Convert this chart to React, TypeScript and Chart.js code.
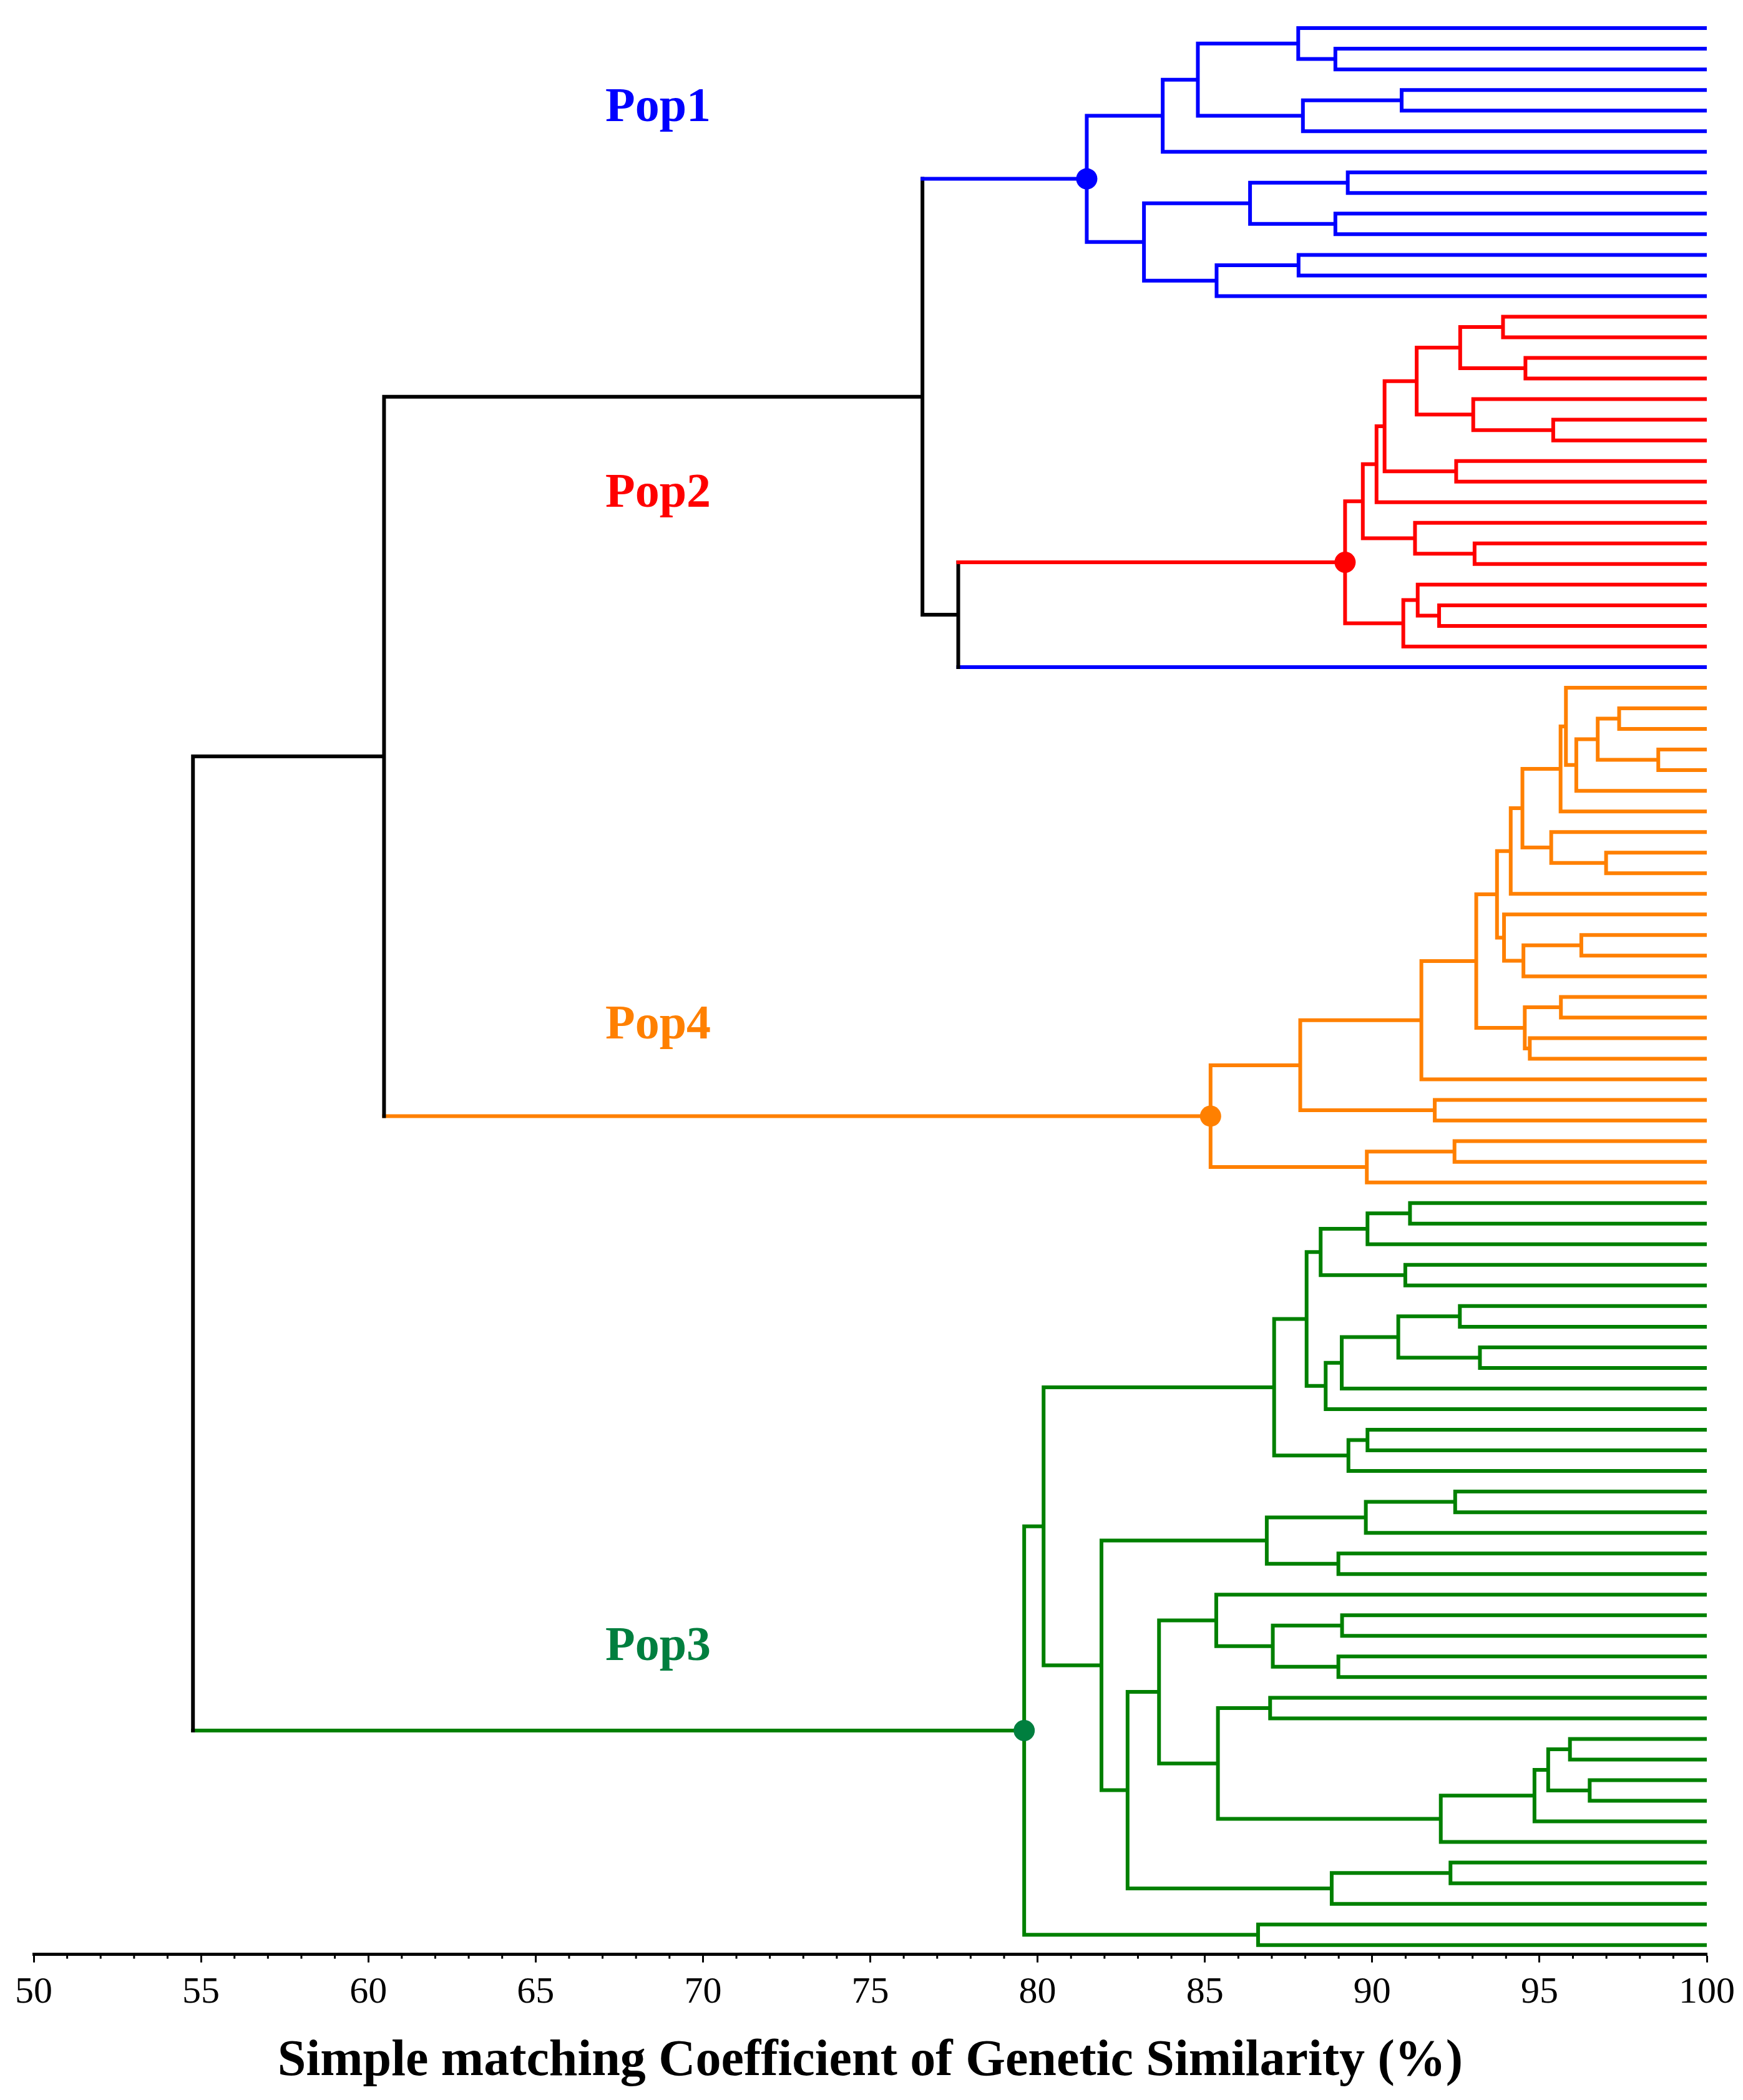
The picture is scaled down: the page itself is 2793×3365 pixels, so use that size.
import { useEffect, useRef } from 'react';
import { Chart, registerables } from 'chart.js';

Chart.register(...registerables);

// A leaf of the dendrogram
const L = 0;
type Tree = number | string | [number, Tree, Tree];

// Sub-trees: [similarity at which the two branches join, branch, branch]
const pop1Tree: Tree = [81.47,
  [83.74,
    [84.79,
      [87.79, L, [88.90, L, L]],
      [87.93, [90.88, L, L], L]],
    L],
  [83.18,
    [86.35, [89.27, L, L], [88.90, L, L]],
    [85.35, [87.80, L, L], L]]];

const pop2Tree: Tree = [89.19,
  [89.72,
    [90.13,
      [90.37,
        [91.33, [92.63, [93.91, L, L], [94.58, L, L]], [93.02, L, [95.41, L, L]]],
        [92.51, L, L]],
      L],
    [91.28, L, [93.06, L, L]]],
  [90.93, [91.36, L, [92.0, L, L]], L]];

const outlierTree: Tree = L;

const pop4Tree: Tree = [85.17,
  [87.85,
    [91.47,
      [93.11,
        [93.73,
          [94.14,
            [94.49,
              [95.63, [95.79, L, [96.10, [96.74, [97.38, L, L], [98.55, L, L]], L]], L],
              [95.35, L, [96.99, L, L]]],
            L],
          [93.94, L, [94.52, [96.25, L, L], L]]],
        [94.56, [95.64, L, L], [94.71, L, L]]],
      L],
    [91.87, L, L]],
  [89.84, [92.46, L, L], L]];

const pop3Tree: Tree = [79.6,
  [80.18,
    [87.07,
      [88.04,
        [88.46, [89.86, [91.13, L, L], L], [90.99, L, L]],
        [88.61, [89.09, [90.78, [92.62, L, L], [93.22, L, L]], L], L]],
      [89.29, [89.86, L, L], L]],
    [81.91,
      [86.85, [89.81, [92.48, L, L], L], [88.99, L, L]],
      [82.69,
        [83.63,
          [85.34, L, [87.03, [89.10, L, L], [88.99, L, L]]],
          [85.39, [86.95, L, L], [92.05, [94.85, [95.26, [95.91, L, L], [96.50, L, L]], L], L]]],
        [88.79, [92.34, L, L], L]]]],
  [86.59, L, L]];

// Upper part of the tree, joining the groups
const topTree: Tree = [54.76, [60.47, [76.56, 'Pop1', [77.63, 'Pop2', 'out']], 'Pop4'], 'Pop3'];

const groupKeys = ['Pop1', 'Pop2', 'out', 'Pop4', 'Pop3'];
const groupTrees: Tree[] = [pop1Tree, pop2Tree, outlierTree, pop4Tree, pop3Tree];
const groupLabels = ['Pop1', 'Pop2', '', 'Pop4', 'Pop3'];

const xTickValues = [50, 55, 60, 65, 70, 75, 80, 85, 90, 95, 100];
const xTitle = 'Simple matching Coefficient of Genetic Similarity (%)';

// styles
const lineColors: Record<string, string> = {
  Pop1: '#0000FF', Pop2: '#FF0000', out: '#0000FF', Pop4: '#FF8000', Pop3: '#008000', top: '#000000',
};
const markerColors: Record<string, string> = {
  Pop1: '#0000FF', Pop2: '#FF0000', Pop4: '#FF8000', Pop3: '#007F3F',
};
const labelColors: Record<string, string> = {
  Pop1: '#0000FF', Pop2: '#FF0000', Pop4: '#FF8000', Pop3: '#007F3F',
};
const labelRows: Record<string, number> = { Pop1: 3.9, Pop2: 22.6, Pop4: 48.4, Pop3: 78.55 };
const labelX = 68.66;

type Pt = { x: number; y: number | null };

function buildTree() {
  const segs: Record<string, Pt[]> = {};
  const markers: { x: number; y: number; key: string }[] = [];
  let next = 0;
  const add = (key: string, a: [number, number], b: [number, number]) => {
    if (!segs[key]) segs[key] = [];
    segs[key].push({ x: a[0], y: a[1] }, { x: b[0], y: b[1] }, { x: a[0], y: null });
  };
  const walk = (node: Tree, key: string): { x: number; y: number; key: string } => {
    if (typeof node === 'string') {
      const gi = groupKeys.indexOf(node);
      const r = walk(groupTrees[gi], node);
      if (groupLabels[gi] && r.x < 100) markers.push({ x: r.x, y: r.y, key: node });
      return r;
    }
    if (typeof node === 'number') {
      const y = next++;
      return { x: 100, y, key };
    }
    const [h, a, b] = node;
    const ra = walk(a, key);
    const rb = walk(b, key);
    add(key, [h, ra.y], [h, rb.y]);
    add(ra.key, [h, ra.y], [ra.x, ra.y]);
    add(rb.key, [h, rb.y], [rb.x, rb.y]);
    return { x: h, y: (ra.y + rb.y) / 2, key };
  };
  walk(topTree, 'top');
  return { segs, markers, leafCount: next };
}

export default function App() {
  const ref = useRef<HTMLCanvasElement | null>(null);

  useEffect(() => {
    if (!ref.current) return;
    const { segs, markers, leafCount } = buildTree();

    const lineSets = Object.keys(segs).map((key) => ({
      type: 'scatter' as const,
      data: segs[key],
      showLine: true,
      spanGaps: false,
      borderColor: lineColors[key],
      backgroundColor: lineColors[key],
      borderWidth: 6,
      borderCapStyle: 'square' as const,
      pointRadius: 0,
      pointHoverRadius: 0,
      order: 1,
    }));

    const markerSet = {
      type: 'scatter' as const,
      data: markers.map((m) => ({ x: m.x, y: m.y })),
      showLine: false,
      pointRadius: 17,
      pointHoverRadius: 17,
      pointBorderWidth: 0,
      backgroundColor: markers.map((m) => markerColors[m.key]),
      borderColor: markers.map((m) => markerColors[m.key]),
      order: 0,
    };

    const extras = {
      id: 'extras',
      afterDraw(chart: any) {
        const { ctx, chartArea, scales } = chart;
        const xs = scales.x;
        const ys = scales.y;
        ctx.save();
        // minor ticks
        ctx.strokeStyle = '#000';
        ctx.lineWidth = 3;
        for (let v = 50; v <= 100; v++) {
          if (xTickValues.includes(v)) continue;
          const px = xs.getPixelForValue(v);
          ctx.beginPath();
          ctx.moveTo(px, chartArea.bottom);
          ctx.lineTo(px, chartArea.bottom + 7);
          ctx.stroke();
        }
        // group labels
        ctx.font = 'bold 78px "Liberation Serif", serif';
        ctx.textAlign = 'center';
        ctx.textBaseline = 'middle';
        Object.keys(labelRows).forEach((k) => {
          ctx.fillStyle = labelColors[k];
          ctx.fillText(k, xs.getPixelForValue(labelX), ys.getPixelForValue(labelRows[k]));
        });
        ctx.restore();
      },
    };

    const chart = new Chart(ref.current, {
      type: 'scatter',
      data: { datasets: [markerSet as any, ...(lineSets as any[])] },
      options: {
        animation: false,
        responsive: true,
        maintainAspectRatio: false,
        devicePixelRatio: 1,
        layout: { padding: { left: 54, right: 52, top: 0, bottom: 12 } },
        plugins: { legend: { display: false }, tooltip: { enabled: false } },
        events: [],
        scales: {
          x: {
            type: 'linear',
            position: 'bottom',
            min: 50,
            max: 100,
            afterBuildTicks: (scale: any) => {
              const t = [];
              for (let v = 50; v <= 100; v += 5) t.push({ value: v });
              scale.ticks = t;
            },
            ticks: {
              autoSkip: false,
              maxRotation: 0,
              padding: 13,
              color: '#000',
              font: { family: '"Liberation Serif", serif', size: 60 },
              callback: (v: any) => (xTickValues.includes(Number(v)) ? String(v) : ''),
            },
            grid: {
              drawOnChartArea: false,
              drawTicks: true,
              tickLength: 13,
              tickWidth: 3,
              tickColor: '#000',
            },
            border: { display: true, color: '#000', width: 5 },
            title: {
              display: true,
              text: xTitle,
              color: '#000',
              font: { family: '"Liberation Serif", serif', size: 82, weight: 'bold' },
              padding: { top: 12, bottom: 0 },
            },
          },
          y: {
            type: 'linear',
            display: false,
            reverse: true,
            min: -0.85,
            max: leafCount - 1 + 0.45,
          },
        },
      },
      plugins: [extras],
    });
    return () => chart.destroy();
  }, []);

  return (
    <div style={{ position: 'absolute', left: 0, top: 0, width: 2793, height: 3365, background: '#fff' }}>
      <canvas ref={ref} />
    </div>
  );
}
